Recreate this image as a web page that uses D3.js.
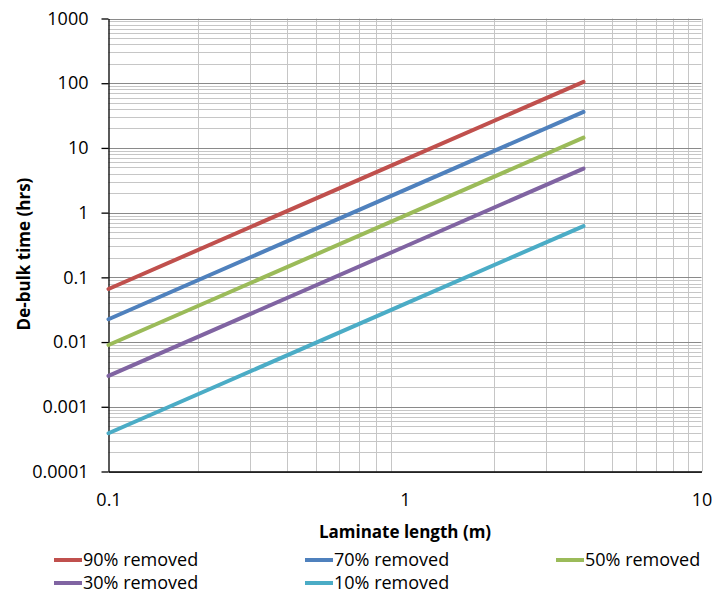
<!DOCTYPE html>
<html>
<head>
<meta charset="utf-8">
<script src="https://cdn.jsdelivr.net/npm/d3@7"></script>
<style>
  html, body { margin: 0; padding: 0; background: #fff; }
  svg { display: block; font-family: "Open Sans", Lato, sans-serif; }
</style>
</head>
<body>
<svg id="chart" width="715" height="594"></svg>
<script>
// Laminate length (m) sampled along each curve
const lengths = [0.1, 1, 4];

// De-bulk time (hrs) for each fraction of bulk removed
const removed90 = [0.066, 6.6, 105];
const removed70 = [0.0225, 2.25, 36];
const removed50 = [0.009, 0.9, 14.4];
const removed30 = [0.003, 0.3, 4.8];
const removed10 = [0.00039, 0.039, 0.62];

const seriesNames = ["90% removed", "70% removed", "50% removed", "30% removed", "10% removed"];
const seriesColors = ["#C0504D", "#4F81BD", "#9BBB59", "#8064A2", "#4BACC6"];
const seriesValues = [removed90, removed70, removed50, removed30, removed10];

const xTickValues = [0.1, 1, 10];
const xTickLabels = ["0.1", "1", "10"];
const yTickValues = [0.0001, 0.001, 0.01, 0.1, 1, 10, 100, 1000];
const yTickLabels = ["0.0001", "0.001", "0.01", "0.1", "1", "10", "100", "1000"];

const FONT = "'Open Sans', Lato, sans-serif";
const svg = d3.select("#chart");
const plot = { left: 108.5, right: 701.5, top: 18.5, bottom: 471.5 };

const x = d3.scaleLog().domain([0.1, 10]).range([plot.left, plot.right]);
const y = d3.scaleLog().domain([0.0001, 1000]).range([plot.bottom, plot.top]);

// minor values (2..9 × each decade)
function minors(lo, hi) {
  const out = [];
  for (let d = lo; d < hi; d *= 10) {
    for (let k = 2; k <= 9; k++) out.push(d * k);
  }
  return out;
}

const grid = svg.append("g");
// horizontal minor gridlines
grid.selectAll("line.hmin").data(minors(0.0001, 1000)).join("line")
  .attr("x1", plot.left).attr("x2", plot.right)
  .attr("y1", d => Math.round(y(d)) + 0.5).attr("y2", d => Math.round(y(d)) + 0.5)
  .attr("stroke", "#c6c6c6").attr("stroke-width", 1);
// vertical minor gridlines
grid.selectAll("line.vmin").data(minors(0.1, 10).concat([10])).join("line")
  .attr("x1", d => Math.round(x(d)) + 0.5).attr("x2", d => Math.round(x(d)) + 0.5)
  .attr("y1", plot.top).attr("y2", plot.bottom)
  .attr("stroke", "#c6c6c6").attr("stroke-width", 1);
// horizontal major gridlines
grid.selectAll("line.hmaj").data(yTickValues).join("line")
  .attr("x1", plot.left).attr("x2", plot.right)
  .attr("y1", d => Math.round(y(d)) + 0.5).attr("y2", d => Math.round(y(d)) + 0.5)
  .attr("stroke", "#8a8a8a").attr("stroke-width", 1);

// y axis
const yAxis = d3.axisLeft(y)
  .tickValues(yTickValues)
  .tickFormat((d, i) => yTickLabels[i])
  .tickSizeInner(7).tickSizeOuter(0).tickPadding(13);
const gy = svg.append("g").attr("transform", `translate(${plot.left},0)`).call(yAxis);
gy.select(".domain").attr("stroke", "#000").attr("stroke-width", 1.3);
gy.selectAll(".tick line").attr("stroke", "#000").attr("stroke-width", 1.3);
gy.selectAll(".tick text").attr("font-size", 18).attr("fill", "#000")
  .attr("font-family", FONT);

// x axis
const xAxis = d3.axisBottom(x)
  .tickValues(xTickValues)
  .tickFormat((d, i) => xTickLabels[i])
  .tickSize(0).tickPadding(22);
const gx = svg.append("g").attr("transform", `translate(0,${plot.bottom})`).call(xAxis);
gx.select(".domain").attr("stroke", "#000").attr("stroke-width", 1.3);
gx.selectAll(".tick text").attr("font-size", 18).attr("fill", "#000")
  .attr("font-family", FONT);

// series lines
const line = d3.line().x(d => x(d[0])).y(d => y(d[1]));
svg.append("g").selectAll("path").data(seriesValues).join("path")
  .attr("d", vals => line(lengths.map((L, i) => [L, vals[i]])))
  .attr("fill", "none")
  .attr("stroke", (d, i) => seriesColors[i])
  .attr("stroke-width", 4)
  .attr("stroke-linecap", "round");

// axis titles
svg.append("text")
  .attr("x", (plot.left + plot.right) / 2).attr("y", 532).attr("dy", "0.35em")
  .attr("text-anchor", "middle").attr("font-weight", "bold").attr("font-size", 17)
  .text("Laminate length (m)");
svg.append("text")
  .attr("transform", `translate(24,254) rotate(-90)`).attr("dy", "0.35em")
  .attr("text-anchor", "middle").attr("font-weight", "bold").attr("font-size", 17)
  .text("De-bulk time (hrs)");

// legend
const legendCols = [54, 305, 556];
const legendRows = [560, 583];
const legend = svg.append("g").selectAll("g").data(seriesNames).join("g")
  .attr("transform", (d, i) => `translate(${legendCols[i % 3]},${legendRows[Math.floor(i / 3)]})`);
legend.append("line")
  .attr("x1", 0).attr("x2", 28).attr("y1", 0).attr("y2", 0)
  .attr("stroke", (d, i) => seriesColors[i]).attr("stroke-width", 4);
legend.append("text")
  .attr("x", 29).attr("y", 0).attr("dy", "0.35em")
  .attr("font-size", 18).attr("fill", "#000")
  .text(d => d);
</script>
</body>
</html>
